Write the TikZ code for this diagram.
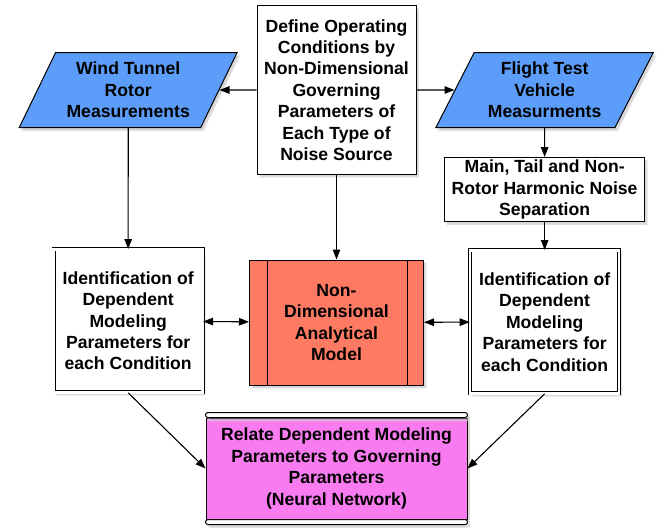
\documentclass[tikz,border=0pt]{standalone}
\usepackage{fontspec}
\setmainfont{Liberation Sans}
\usetikzlibrary{positioning, arrows.meta, shapes.geometric, shadows}
\definecolor{MeasBlue}{HTML}{5B9DF9}
\definecolor{ModelRed}{HTML}{FF7A63}
\definecolor{NetPink}{HTML}{F87BEF}
\newcommand{\boxfont}{\fontsize{17.6}{21.4}\selectfont\bfseries}

\begin{document}
\begin{tikzpicture}[
  x=1pt, y=1pt,
  soft/.style={drop shadow={shadow xshift=2.5pt, shadow yshift=-3pt, fill=black!30, draw=black!12, line width=1.5pt}},
  plain/.style={rectangle, draw=black, line width=1pt, fill=white, font=\boxfont, align=center, inner sep=2pt, soft},
  measure/.style={trapezium, trapezium left angle=61, trapezium right angle=119, trapezium stretches=true, draw=black, line width=1pt, fill=MeasBlue, font=\boxfont, align=center, inner sep=0pt, minimum width=218pt, minimum height=75pt, soft},
  ident/.style={plain, double, double distance=2.4pt, line width=0.8pt, minimum width=149pt, minimum height=143pt},
  model/.style={plain, fill=ModelRed, minimum width=174pt, minimum height=125pt},
  network/.style={plain, fill=NetPink, minimum width=261pt, minimum height=101pt},
  bar/.style={draw=black, line width=1pt, fill=white, rounded corners=2.5pt, soft},
  arr/.style={-{Triangle[length=10pt, width=7.5pt]}, line width=1.1pt},
  dblarr/.style={{Triangle[length=10pt, width=7.5pt]}-{Triangle[length=10pt, width=7.5pt]}, line width=1.1pt},
]
\useasboundingbox (0,0) rectangle (668,-527);

\node[plain, minimum width=159pt, minimum height=168pt] (define) at (336.5,-90)
  {Define Operating\\Conditions by\\Non-Dimensional\\Governing\\Parameters of\\Each Type of\\Noise Source};

\node[measure, left=37pt of define.west, anchor=east] (wind) {Wind Tunnel\\Rotor\\Measurements};
\node[measure, right=38pt of define.east, anchor=west] (flight) {Flight Test\\Vehicle\\Measurments};

\node[plain, minimum width=200pt, minimum height=64pt, below=29pt of flight] (sep)
  {Main, Tail and Non-\\Rotor Harmonic Noise\\Separation};

\node[ident, below=121pt of wind] (idleft)
  {Identification of\\Dependent\\Modeling\\Parameters for\\each Condition};
\node[ident, below=28pt of sep] (idright)
  {Identification of\\Dependent\\Modeling\\Parameters for\\each Condition};

\node[model, below=85pt of define] (analytic) {Non-\\Dimensional\\Analytical\\Model};
\draw[line width=1pt] ([xshift=18pt]analytic.north west) -- ([xshift=18pt]analytic.south west);
\draw[line width=1pt] ([xshift=-17pt]analytic.north east) -- ([xshift=-17pt]analytic.south east);

\node[network, below=32pt of analytic] (nn)
  {Relate Dependent Modeling\\Parameters to Governing\\Parameters\\(Neural Network)};
\draw[bar] (nn.north west) rectangle ([yshift=5pt]nn.north east);
\draw[bar] ([yshift=-5pt]nn.south west) rectangle (nn.south east);

\draw[arr] (define) -- (wind);
\draw[arr] (define) -- (flight);
\draw[arr] (define) -- (analytic);
\draw[arr] (wind) -- (idleft);
\draw[arr] (flight) -- (sep);
\draw[arr] (sep) -- (idright);
\draw[dblarr] (idleft) -- (analytic);
\draw[dblarr] (analytic) -- (idright);
\draw[arr] (idleft.south) -- (nn.west);
\draw[arr] (idright.south) -- (nn.east);

\end{tikzpicture}
\end{document}
